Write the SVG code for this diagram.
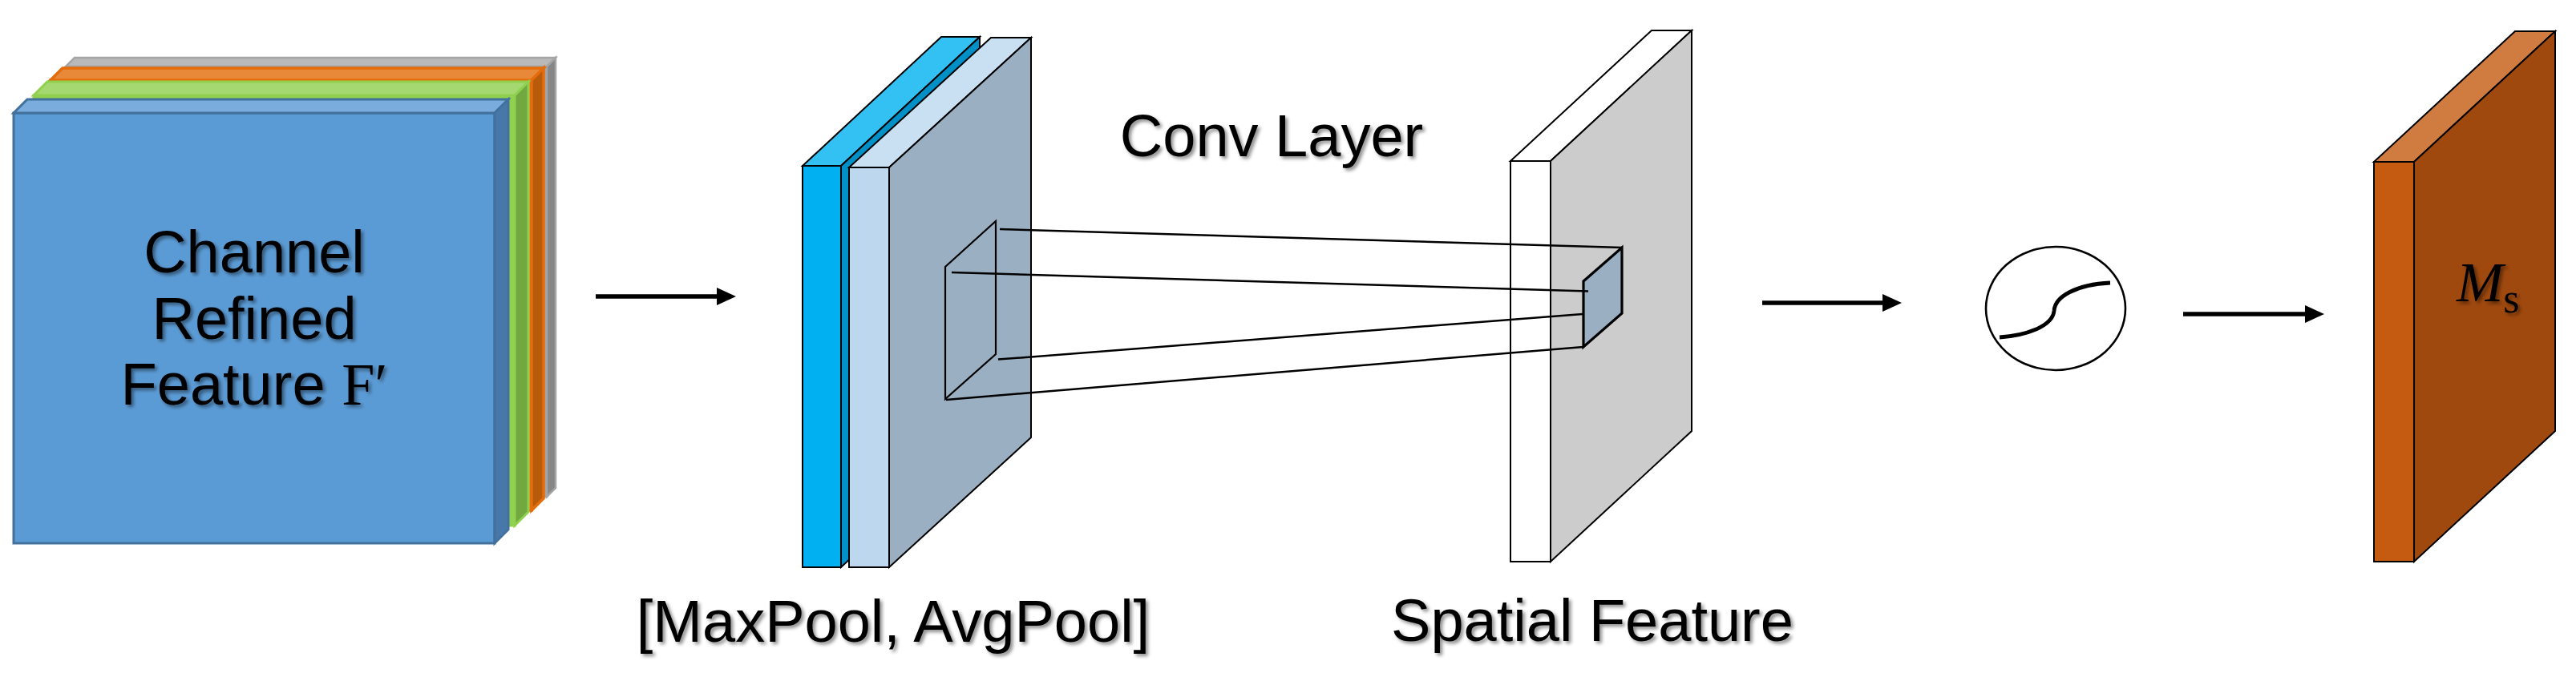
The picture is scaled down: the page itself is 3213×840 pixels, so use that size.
<svg xmlns="http://www.w3.org/2000/svg" width="3213" height="840" viewBox="0 0 3213 840">
<defs>
<filter id="sh" x="-10%" y="-20%" width="130%" height="150%">
<feDropShadow dx="3" dy="3" stdDeviation="2" flood-color="#000" flood-opacity="0.45"/>
</filter>
<marker id="ah" viewBox="0 0 24 22" refX="2" refY="11" markerWidth="24" markerHeight="22" markerUnits="userSpaceOnUse" orient="auto">
<path d="M0,0 L24,11 L0,22 z" fill="#000"/>
</marker>
</defs>
<style>
.lbl{font-family:"Liberation Sans",Arial,sans-serif;font-size:74px;fill:#000;}
.ser{font-family:"Liberation Serif","Times New Roman",serif;}
.edge{stroke:#000;stroke-width:2;stroke-linejoin:miter;}
.proj{stroke:#000;stroke-width:2.5;fill:none;}
.arrow{stroke:#000;stroke-width:5.5;fill:none;}
</style>
<rect width="3213" height="840" fill="#fff"/>

<g id="input-feature">
<g id="layer-gray" stroke="#A5A5A5" stroke-width="2.5">
<rect x="82" y="83" width="600" height="537" fill="#A5A5A5"/>
<polygon points="82,83 682,83 693,72 93,72" fill="#B9B9B9"/>
<polygon points="682,83 693,72 693,609 682,620" fill="#878787"/>
</g>
<g id="layer-orange" stroke="#E46C0A" stroke-width="3.5">
<rect x="63" y="100" width="600" height="537" fill="#ED7D31"/>
<polygon points="63,100 663,100 678,85 78,85" fill="#E8893A"/>
<polygon points="663,100 678,85 678,622 663,637" fill="#B85B0A"/>
</g>
<g id="layer-green" stroke="#8FD14F" stroke-width="3">
<rect x="42" y="119" width="600" height="537" fill="#92D050"/>
<polygon points="42,119 642,119 659,102 59,102" fill="#A6D871"/>
<polygon points="642,119 659,102 659,639 642,656" fill="#71A840"/>
</g>
<g id="layer-blue" stroke="#41719C" stroke-width="3">
<rect x="17" y="141" width="600" height="537" fill="#5B9BD5"/>
<polygon points="17,141 617,141 634,124 34,124" fill="#7AADDD"/>
<polygon points="617,141 634,124 634,661 617,678" fill="#4778A9"/>
</g>
<text class="lbl" x="317" y="340" text-anchor="middle" filter="url(#sh)">Channel</text>
<text class="lbl" x="317" y="423" text-anchor="middle" filter="url(#sh)">Refined</text>
<text class="lbl" x="317" y="505" text-anchor="middle" filter="url(#sh)">Feature <tspan class="ser">F′</tspan></text>
</g>

<g id="pooled-maps">
<g id="maxpool-slab" class="edge" stroke-width="2.5">
<polygon points="1001,207 1049,207 1222,46 1174,46" fill="#33C1F4"/>
<polygon points="1049,207 1222,46 1222,547 1049,708" fill="#0090C8"/>
<rect x="1001" y="207" width="48" height="501" fill="#00B0F0"/>
</g>
<g id="avgpool-slab" class="edge">
<polygon points="1059,209 1109,209 1286,47 1236,47" fill="#C9DFF2"/>
<polygon points="1109,209 1286,47 1286,546 1109,708" fill="#9BAFC3"/>
<rect x="1059" y="209" width="50" height="499" fill="#BDD7EE"/>
<polygon points="1179,333 1242,276 1242,442 1179,498" fill="none" stroke-width="2.2"/>
</g>
<text class="lbl" x="1114" y="801" text-anchor="middle" filter="url(#sh)">[MaxPool, AvgPool]</text>
</g>

<g id="conv-layer-label">
<text class="lbl" x="1586" y="195" text-anchor="middle" filter="url(#sh)">Conv Layer</text>
</g>

<g id="spatial-feature">
<g class="edge">
<polygon points="1884,201 1934,201 2110,38 2060,38" fill="#fff"/>
<polygon points="1934,201 2110,38 2110,538 1934,701" fill="#CCCCCC"/>
<rect x="1884" y="201" width="50" height="500" fill="#fff"/>
<polygon points="1975,351 2023,309 2023,391 1975,433" fill="#9AAFC2" stroke-width="3.2"/>
</g>
<text class="lbl" x="1986" y="800" text-anchor="middle" filter="url(#sh)">Spatial Feature</text>
</g>

<g id="sigmoid">
<ellipse cx="2564" cy="385" rx="87" ry="77" fill="none" stroke="#000" stroke-width="2.6"/>
<path d="M2494,421 C2525,419 2560,408 2562,388 C2563,370 2590,355 2632,353" fill="none" stroke="#000" stroke-width="4.8"/>
</g>

<g id="output-map">
<g class="edge" stroke-width="1.8">
<polygon points="2961,202 3011,202 3187,39 3137,39" fill="#D07B40"/>
<polygon points="3011,202 3187,39 3187,538 3011,701" fill="#A0490E"/>
<rect x="2961" y="202" width="50" height="499" fill="#C55A11"/>
</g>
<text class="ser" x="3064" y="376" font-size="70" filter="url(#sh)"><tspan font-style="italic">M</tspan><tspan font-size="52" dy="14">s</tspan></text>
</g>

<g id="connectors">
<line class="proj" x1="1247" y1="286" x2="2023" y2="309"/>
<line class="proj" x1="1187" y1="340" x2="1981" y2="363.5"/>
<line class="proj" x1="1245" y1="448.6" x2="1974" y2="392"/>
<line class="proj" x1="1180" y1="499" x2="1975" y2="433"/>
<line class="arrow" x1="743" y1="370" x2="896" y2="370" marker-end="url(#ah)"/>
<line class="arrow" x1="2198" y1="378" x2="2350" y2="378" marker-end="url(#ah)"/>
<line class="arrow" x1="2723" y1="392" x2="2877" y2="392" marker-end="url(#ah)"/>
</g>
</svg>
